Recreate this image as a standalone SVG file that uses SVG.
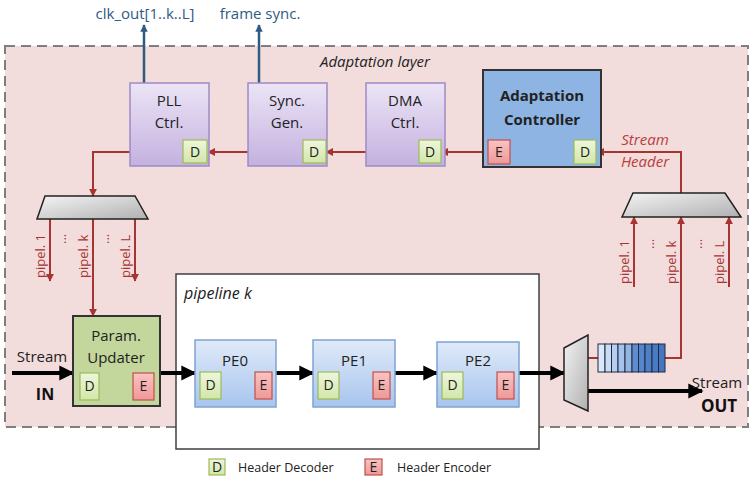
<svg xmlns="http://www.w3.org/2000/svg" width="751" height="477" viewBox="0 0 751 477">
<defs>
<style>
text{font-family:"Open Sans","Liberation Sans",sans-serif;}
.purple{fill:url(#gPurple);stroke:#9d8bc4;stroke-width:1.5;}
.pe{fill:url(#gBlue);stroke:#7fa3d3;stroke-width:1.5;}
.dbox{fill:url(#gGreen);stroke:#9bbb59;stroke-width:1.2;}
.ebox{fill:url(#gRed);stroke:#c0504d;stroke-width:1.2;}
.de{font-size:14px;fill:#222;text-anchor:middle;}
.lbl{font-size:15px;fill:#222;text-anchor:middle;}
.red{stroke:#a83431;stroke-width:2;fill:none;}
.blk{stroke:#000;stroke-width:4;fill:none;}
.blue{stroke:#2f5a84;stroke-width:2.5;fill:none;}
.pip{font-size:13px;fill:#a83431;}
.mux{fill:url(#gGray);stroke:#222;stroke-width:1.5;}
</style>
<linearGradient id="gPurple" x1="0" y1="0" x2="0" y2="1"><stop offset="0" stop-color="#ece4f6"/><stop offset="1" stop-color="#c4b1df"/></linearGradient>
<linearGradient id="gBlue" x1="0" y1="0" x2="0" y2="1"><stop offset="0" stop-color="#dfeaf8"/><stop offset="1" stop-color="#a8c5ee"/></linearGradient>
<linearGradient id="gGreen" x1="0" y1="0" x2="0" y2="1"><stop offset="0" stop-color="#eef6dc"/><stop offset="1" stop-color="#d2e6a8"/></linearGradient>
<linearGradient id="gRed" x1="0" y1="0" x2="0" y2="1"><stop offset="0" stop-color="#f8c4c3"/><stop offset="1" stop-color="#ee9896"/></linearGradient>
<linearGradient id="gGray" x1="0" y1="0" x2="1" y2="1"><stop offset="0" stop-color="#f4f4f4"/><stop offset="1" stop-color="#b0b0b0"/></linearGradient>
<marker id="aRed" viewBox="0 0 10 10" refX="9" refY="5" markerWidth="4" markerHeight="4" orient="auto"><path d="M0,0 L10,5 L0,10 z" fill="#a83431"/></marker>
<marker id="aBlk" viewBox="0 0 10 10" refX="9" refY="5" markerWidth="3.8" markerHeight="3.8" orient="auto"><path d="M0,0 L10,5 L0,10 z" fill="#000"/></marker>
<marker id="aBlue" viewBox="0 0 10 10" refX="9" refY="5" markerWidth="3" markerHeight="3" orient="auto"><path d="M0,0 L10,5 L0,10 z" fill="#2f5a84"/></marker>
</defs>
<rect width="751" height="477" fill="#fff"/>

<g id="adaptation-layer">
<rect x="5" y="46" width="743" height="381" fill="#f2dcdc" stroke="#7f7f7f" stroke-width="2" stroke-dasharray="10,6"/>
<text x="375" y="67" font-size="15" font-style="italic" fill="#222" text-anchor="middle">Adaptation layer</text>
</g>

<g id="pipeline-k">
<rect x="176" y="274" width="363" height="175" fill="#fff" stroke="#3f3f3f" stroke-width="1.5"/>
<text x="184" y="299" font-size="16" font-style="italic" fill="#222">pipeline k</text>
</g>

<g id="connectors">
<line class="blue" x1="144" y1="83" x2="144" y2="25" marker-end="url(#aBlue)"/>
<line class="blue" x1="259" y1="83" x2="259" y2="25" marker-end="url(#aBlue)"/>
<polyline class="red" points="681,193 681,152 597,152" marker-end="url(#aRed)"/>
<line class="red" x1="574" y1="152" x2="511" y2="152" marker-end="url(#aRed)"/>
<line class="red" x1="488" y1="152" x2="441" y2="152" marker-end="url(#aRed)"/>
<line class="red" x1="419" y1="152" x2="326" y2="152" marker-end="url(#aRed)"/>
<line class="red" x1="303" y1="152" x2="208" y2="152" marker-end="url(#aRed)"/>
<polyline class="red" points="183,152 93,152 93,196" marker-end="url(#aRed)"/>
<line class="red" x1="50" y1="219" x2="50" y2="281" marker-end="url(#aRed)"/>
<line class="red" x1="93" y1="219" x2="93" y2="316" marker-end="url(#aRed)"/>
<line class="red" x1="135" y1="219" x2="135" y2="281" marker-end="url(#aRed)"/>
<line class="red" x1="634" y1="287" x2="634" y2="217" marker-end="url(#aRed)"/>
<polyline class="red" points="665,358 681,358 681,217" marker-end="url(#aRed)"/>
<line class="red" x1="729" y1="287" x2="729" y2="217" marker-end="url(#aRed)"/>
<line class="red" x1="588" y1="358" x2="598" y2="358"/>
<line class="blk" x1="12" y1="373" x2="73" y2="373" marker-end="url(#aBlk)"/>
<line class="blk" x1="160" y1="373" x2="195" y2="373" marker-end="url(#aBlk)"/>
<line class="blk" x1="276" y1="373" x2="313" y2="373" marker-end="url(#aBlk)"/>
<line class="blk" x1="395" y1="373" x2="437" y2="373" marker-end="url(#aBlk)"/>
<line class="blk" x1="519" y1="373" x2="564" y2="373" marker-end="url(#aBlk)"/>
<line class="blk" x1="588" y1="391" x2="702" y2="391" marker-end="url(#aBlk)"/>
</g>

<g id="labels">
<text x="145" y="19" font-size="15" fill="#2f5a84" text-anchor="middle">clk_out[1..k..L]</text>
<text x="260" y="19" font-size="15" fill="#2f5a84" text-anchor="middle">frame sync.</text>
<text x="645" y="145" font-size="15" font-style="italic" fill="#b8403d" text-anchor="middle">Stream</text>
<text x="645" y="167" font-size="15" font-style="italic" fill="#b8403d" text-anchor="middle">Header</text>
<text x="42" y="362" font-size="15" fill="#222" text-anchor="middle">Stream</text>
<text x="45" y="400" font-size="16" font-weight="bold" fill="#111" text-anchor="middle">IN</text>
<text x="717" y="388" font-size="15" fill="#222" text-anchor="middle">Stream</text>
<text x="719" y="412" font-size="17" font-weight="bold" fill="#111" text-anchor="middle">OUT</text>
<text class="pip" transform="translate(45,278) rotate(-90)">pipel. 1</text>
<text class="pip" transform="translate(88,278) rotate(-90)">pipel. k</text>
<text class="pip" transform="translate(130,278) rotate(-90)">pipel. L</text>
<text class="pip" transform="translate(66,244) rotate(-90)">...</text>
<text class="pip" transform="translate(109,244) rotate(-90)">...</text>
<text class="pip" transform="translate(629,284) rotate(-90)">pipel. 1</text>
<text class="pip" transform="translate(676,284) rotate(-90)">pipel. k</text>
<text class="pip" transform="translate(724,284) rotate(-90)">pipel. L</text>
<text class="pip" transform="translate(654,249) rotate(-90)">...</text>
<text class="pip" transform="translate(702,249) rotate(-90)">...</text>
</g>

<g id="pll-ctrl">
<rect class="purple" x="130" y="83" width="79" height="83"/>
<text class="lbl" x="169" y="106">PLL</text>
<text class="lbl" x="169" y="128">Ctrl.</text>
<rect class="dbox" x="183" y="140" width="24" height="23"/><text class="de" x="195" y="157">D</text>
</g>
<g id="sync-gen">
<rect class="purple" x="248" y="83" width="79" height="83"/>
<text class="lbl" x="287" y="106">Sync.</text>
<text class="lbl" x="287" y="128">Gen.</text>
<rect class="dbox" x="303" y="140" width="23" height="23"/><text class="de" x="314" y="157">D</text>
</g>
<g id="dma-ctrl">
<rect class="purple" x="366" y="83" width="79" height="83"/>
<text class="lbl" x="405" y="106">DMA</text>
<text class="lbl" x="405" y="128">Ctrl.</text>
<rect class="dbox" x="419" y="140" width="22" height="23"/><text class="de" x="430" y="157">D</text>
</g>
<g id="adaptation-controller">
<rect x="483" y="70" width="118" height="97" fill="#8db4e3" stroke="#333" stroke-width="2"/>
<text class="lbl" x="542" y="101" font-weight="bold">Adaptation</text>
<text class="lbl" x="542" y="125" font-weight="bold">Controller</text>
<rect class="ebox" x="488" y="140" width="22" height="24"/><text class="de" x="499" y="157">E</text>
<rect class="dbox" x="574" y="140" width="22" height="24"/><text class="de" x="585" y="157">D</text>
</g>

<g id="demux-left">
<polygon class="mux" points="45,196 135,196 148,219 37,219"/>
</g>
<g id="mux-right">
<polygon class="mux" points="633,193 725,193 741,217 622,217"/>
</g>
<g id="mux-out">
<polygon class="mux" points="564,348 588,335 588,411 564,400"/>
</g>

<g id="queue">
<rect x="598" y="344" width="7" height="28" fill="#dce8f8" stroke="#1f2a44" stroke-width="1"/>
<rect x="605" y="344" width="6.5" height="28" fill="#c9dcf4" stroke="#1f2a44" stroke-width="1"/>
<rect x="611.5" y="344" width="6.5" height="28" fill="#b6cff0" stroke="#1f2a44" stroke-width="1"/>
<rect x="618" y="344" width="7" height="28" fill="#a5c3ea" stroke="#1f2a44" stroke-width="1"/>
<rect x="625" y="344" width="7" height="28" fill="#92b5e2" stroke="#1f2a44" stroke-width="1"/>
<rect x="632" y="344" width="6.5" height="28" fill="#5f8ed0" stroke="#1f2a44" stroke-width="1"/>
<rect x="638.5" y="344" width="6.5" height="28" fill="#5586cb" stroke="#1f2a44" stroke-width="1"/>
<rect x="645" y="344" width="7" height="28" fill="#4f80c6" stroke="#1f2a44" stroke-width="1"/>
<rect x="652" y="344" width="6.5" height="28" fill="#4a7bc2" stroke="#1f2a44" stroke-width="1"/>
<rect x="658.5" y="344" width="6.5" height="28" fill="#4677be" stroke="#1f2a44" stroke-width="1"/>
</g>

<g id="param-updater">
<rect x="73" y="316" width="87" height="90" fill="#c3d69b" stroke="#333" stroke-width="2"/>
<text class="lbl" x="116" y="341">Param.</text>
<text class="lbl" x="116" y="363">Updater</text>
<rect class="dbox" x="80" y="373" width="19" height="27"/><text class="de" x="89.5" y="391">D</text>
<rect class="ebox" x="133" y="373" width="21" height="27"/><text class="de" x="143.5" y="391">E</text>
</g>

<g id="pe0">
<rect class="pe" x="195" y="340" width="81" height="67"/>
<text class="lbl" x="235" y="366">PE0</text>
<rect class="dbox" x="200" y="372" width="21" height="27"/><text class="de" x="210.5" y="390">D</text>
<rect class="ebox" x="255" y="372" width="17" height="27"/><text class="de" x="263.5" y="390">E</text>
</g>
<g id="pe1">
<rect class="pe" x="313" y="340" width="82" height="67"/>
<text class="lbl" x="354" y="366">PE1</text>
<rect class="dbox" x="318" y="372" width="21" height="27"/><text class="de" x="328.5" y="390">D</text>
<rect class="ebox" x="373" y="372" width="17" height="27"/><text class="de" x="381.5" y="390">E</text>
</g>
<g id="pe2">
<rect class="pe" x="437" y="342" width="82" height="65"/>
<text class="lbl" x="478" y="366">PE2</text>
<rect class="dbox" x="442" y="372" width="21" height="27"/><text class="de" x="452.5" y="390">D</text>
<rect class="ebox" x="497" y="372" width="17" height="27"/><text class="de" x="505.5" y="390">E</text>
</g>

<g id="legend">
<rect class="dbox" x="209" y="459" width="16" height="16"/><text class="de" x="217" y="472" font-size="12">D</text>
<text x="238" y="472" font-size="12.5" fill="#222">Header Decoder</text>
<rect class="ebox" x="365" y="459" width="17" height="16"/><text class="de" x="373.5" y="472" font-size="12">E</text>
<text x="397" y="472" font-size="12.5" fill="#222">Header Encoder</text>
</g>
</svg>
